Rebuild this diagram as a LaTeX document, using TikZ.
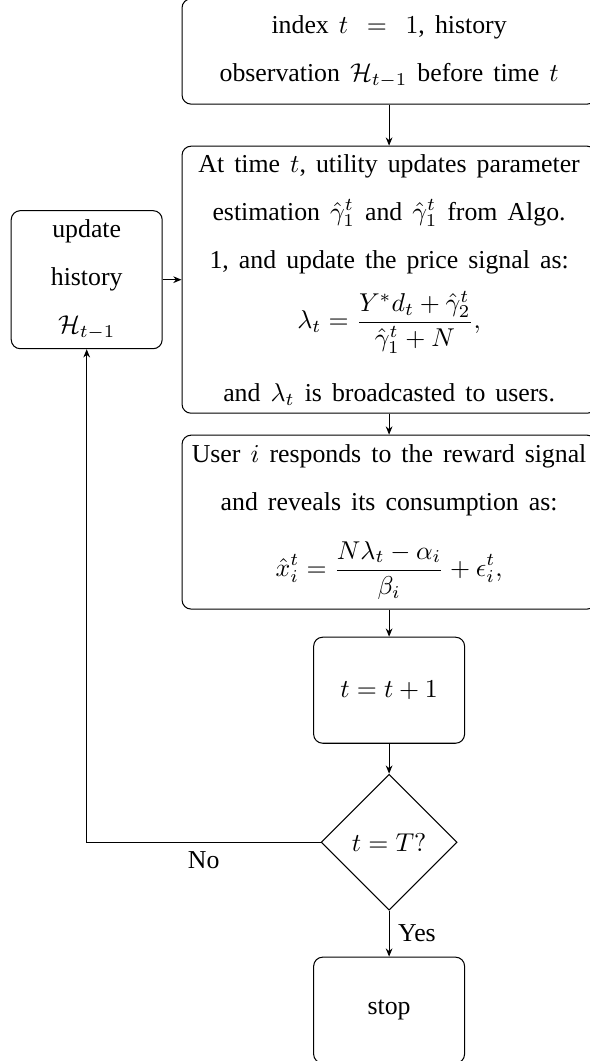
\documentclass[tikz,border=0pt]{standalone}
\usepackage{amsmath,amssymb}
\usepackage[no-math]{fontspec}
\setmainfont{Liberation Serif}
\usetikzlibrary{positioning,shapes.geometric,arrows.meta}
\newcommand{\boxfont}{\linespread{1.55}\selectfont\setlength{\spaceskip}{3.9pt}}

\begin{document}
\begin{tikzpicture}[
    >={Stealth[length=3.2pt,width=2.6pt]},
    block/.style={draw, rounded corners=3.5pt, align=center, inner sep=3pt,
      minimum width=160.5pt, font=\boxfont},
    smallbox/.style={draw, rounded corners=3.5pt, align=center,
      minimum width=58.5pt, minimum height=41.1pt},
    decide/.style={draw, diamond, aspect=1, minimum size=52.7pt, inner sep=0pt},
    ]
\useasboundingbox (0,0) rectangle (228.3pt,-411.2pt);

\node[block, minimum height=40.8pt] (init) at (150.8pt,-19.95pt)
    {index $t\;\,=\;\,1$, history\\ observation $\mathcal{H}_{t-1}$ before time $t$};
\node[block, minimum height=103.5pt, below=15.9pt of init] (price)
    {At time $t$, utility updates parameter\\
     estimation $\hat{\gamma}_1^t$ and $\hat{\gamma}_1^t$ from Algo.\\
     1, and update the price signal as:\\[4.9pt]
     $\displaystyle\lambda_t=\frac{Y^*d_t+\hat{\gamma}_2^t}{\hat{\gamma}_1^t+N},$\\[9.4pt]
     and $\lambda_t$ is broadcasted to users.};
\node[block, minimum height=67.4pt, below=8.1pt of price] (user)
    {User $i$ responds to the reward signal\\
     and reveals its consumption as:\\[6.8pt]
     $\displaystyle\hat{x}_i^t=\frac{N\lambda_t-\alpha_i}{\beta_i}+\epsilon_i^t,$};
\node[smallbox, below=10.5pt of user] (incr) {$t=t+1$};
\node[decide, below=11.6pt of incr] (test) {$t=T?$};
\node[smallbox, below=17.8pt of test] (stop) {stop};
\node[smallbox, minimum height=53.5pt, font=\boxfont,
    left=7.3pt of price] (hist) {update\\ history\\ $\mathcal{H}_{t-1}$};

\foreach \a/\b in {init/price, price/user, user/incr, incr/test, hist/price}
    \draw[->] (\a) -- (\b);
\draw[->] (test) -- node[right] {Yes} (stop);
\draw[->] (test.west) -| node[pos=0.25, below] {No} (hist.south);

\end{tikzpicture}
\end{document}
